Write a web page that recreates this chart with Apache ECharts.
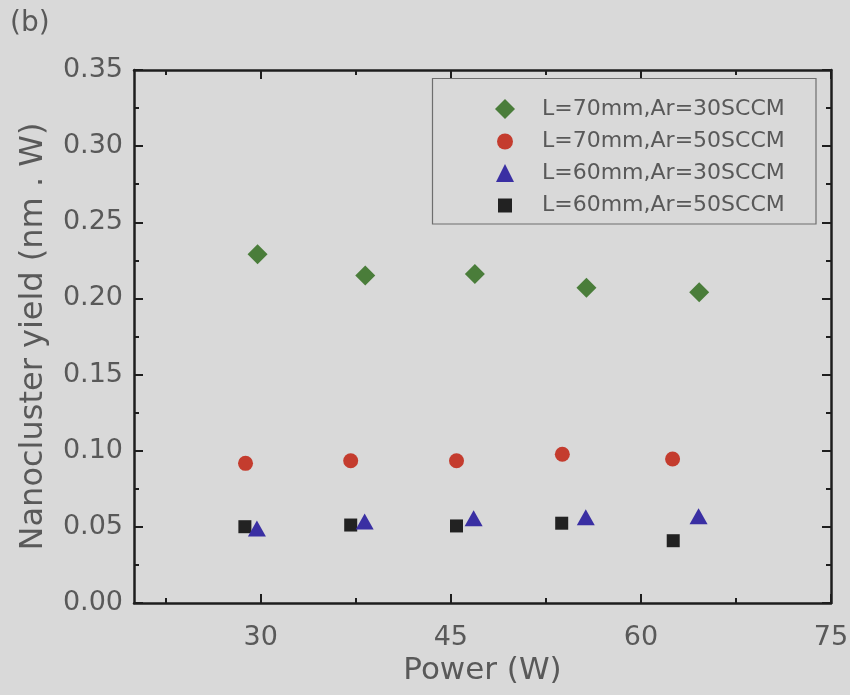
<!DOCTYPE html>
<html>
<head>
<meta charset="utf-8">
<script src="https://cdn.jsdelivr.net/npm/echarts@6/dist/echarts.min.js"></script>
<style>
html,body{margin:0;padding:0;background:#d9d9d9;}
#chart{width:850px;height:695px;}
</style>
</head>
<body>
<div id="chart"></div>
<script>
// ---- data ----
const seriesNames = ['L=70mm,Ar=30SCCM', 'L=70mm,Ar=50SCCM', 'L=60mm,Ar=30SCCM', 'L=60mm,Ar=50SCCM'];
const power70_30 = [29.75, 38.25, 46.9, 55.7, 64.6];
const yield70_30 = [0.229, 0.215, 0.216, 0.207, 0.204];
const power70_50 = [28.8, 37.1, 45.45, 53.8, 62.5];
const yield70_50 = [0.0917, 0.0934, 0.0934, 0.0977, 0.0946];
const power60_30 = [29.7, 38.2, 46.8, 55.65, 64.55];
const yield60_30 = [0.049, 0.0535, 0.0556, 0.0563, 0.0569];
const power60_50 = [28.75, 37.1, 45.45, 53.75, 62.55];
const yield60_50 = [0.0501, 0.0512, 0.0506, 0.0524, 0.0409];
const xMajorTicks = [30, 45, 60, 75];
const xMinorTicks = [22.5, 37.5, 52.5, 67.5];
const yTickInterval = 0.05;

const pairs = (xs, ys) => xs.map((x, i) => [x, ys[i]]);

const FONT = 'DejaVu Sans';
const TXT = '#595959';
const AX = '#1e1e1e';

function xAxisDef(position, ticks, len, showLabel, showLine) {
  return {
    type: 'value', min: 20, max: 75, position: position,
    axisLine: { show: showLine, onZero: false, lineStyle: { color: AX, width: 2.5 } },
    axisTick: { show: true, inside: true, length: len, customValues: ticks, lineStyle: { color: AX, width: 2 } },
    axisLabel: showLabel ? { show: true, customValues: ticks, margin: 21, fontSize: 27, color: TXT, fontFamily: FONT } : { show: false },
    splitLine: { show: false },
    name: showLabel ? 'Power (W)' : '',
    nameLocation: 'middle', nameGap: 50,
    nameTextStyle: { fontSize: 31, color: TXT, fontFamily: FONT }
  };
}
function yAxisDef(position, showLabel) {
  return {
    type: 'value', min: 0, max: 0.35, interval: yTickInterval, position: position,
    axisLine: { show: true, onZero: false, lineStyle: { color: AX, width: 2.5 } },
    axisTick: { show: true, inside: true, length: 9, lineStyle: { color: AX, width: 2 } },
    minorTick: { show: true, splitNumber: 2, length: 5, lineStyle: { color: AX, width: 2 } },
    axisLabel: showLabel ? { show: true, margin: 11, fontSize: 27, color: TXT, fontFamily: FONT, formatter: v => v.toFixed(2) } : { show: false },
    splitLine: { show: false }, minorSplitLine: { show: false },
    name: showLabel ? 'Nanocluster yield (nm . W)' : '',
    nameLocation: 'middle', nameGap: 84, nameRotate: 90,
    nameTextStyle: { fontSize: 32, color: TXT, fontFamily: FONT }
  };
}

const styles = [
  { symbol: 'diamond', size: [20, 20], color: '#4a7d3a', legendH: 20, top: 98 },
  { symbol: 'circle', size: 15, color: '#c43c2e', legendH: 16, top: 130.5 },
  { symbol: 'triangle', size: [18, 16], color: '#3a2fa3', legendH: 18, top: 162 },
  { symbol: 'rect', size: 13, color: '#222222', legendH: 14, top: 194.5 }
];
const dataSets = [
  pairs(power70_30, yield70_30),
  pairs(power70_50, yield70_50),
  pairs(power60_30, yield60_30),
  pairs(power60_50, yield60_50)
];
const drawOrder = [0, 1, 3, 2];

const series = drawOrder.map(i => ({
  name: seriesNames[i], type: 'scatter', xAxisIndex: 0, yAxisIndex: 0,
  symbol: styles[i].symbol, symbolSize: styles[i].size,
  itemStyle: { color: styles[i].color, opacity: 1 },
  data: dataSets[i], z: 3
}));

const symbolCenterX = 505;
const textStartX = 542;
const legends = seriesNames.map((n, i) => {
  const h = styles[i].legendH;
  return {
    data: [n], orient: 'vertical', left: symbolCenterX - h / 2, top: styles[i].top, padding: 0,
    itemWidth: h, itemHeight: h, selectedMode: false,
    textStyle: { fontSize: 22, color: TXT, fontFamily: FONT,
      padding: [0, 0, 0, textStartX - (symbolCenterX + h / 2 + 5)] }
  };
});

const chart = echarts.init(document.getElementById('chart'), null, { renderer: 'canvas' });
chart.setOption({
  backgroundColor: '#d9d9d9',
  animation: false,
  grid: { left: 134, top: 70, right: 19, bottom: 92, outerBoundsMode: 'none', containLabel: false },
  xAxis: [
    xAxisDef('bottom', xMajorTicks, 9, true, true),
    xAxisDef('bottom', xMinorTicks, 5, false, false),
    xAxisDef('top', xMajorTicks, 9, false, true),
    xAxisDef('top', xMinorTicks, 5, false, false)
  ],
  yAxis: [yAxisDef('left', true), yAxisDef('right', false)],
  legend: legends,
  graphic: [
    { type: 'rect', shape: { x: 432.5, y: 78.5, width: 383.5, height: 145.5 },
      style: { fill: null, stroke: '#6e6e6e', lineWidth: 1.2 }, z: 10, silent: true },
    { type: 'text', left: 10, top: 10,
      style: { text: '(b)', fontSize: 28, fill: TXT, fontFamily: FONT } }
  ],
  series: series
});
</script>
</body>
</html>
